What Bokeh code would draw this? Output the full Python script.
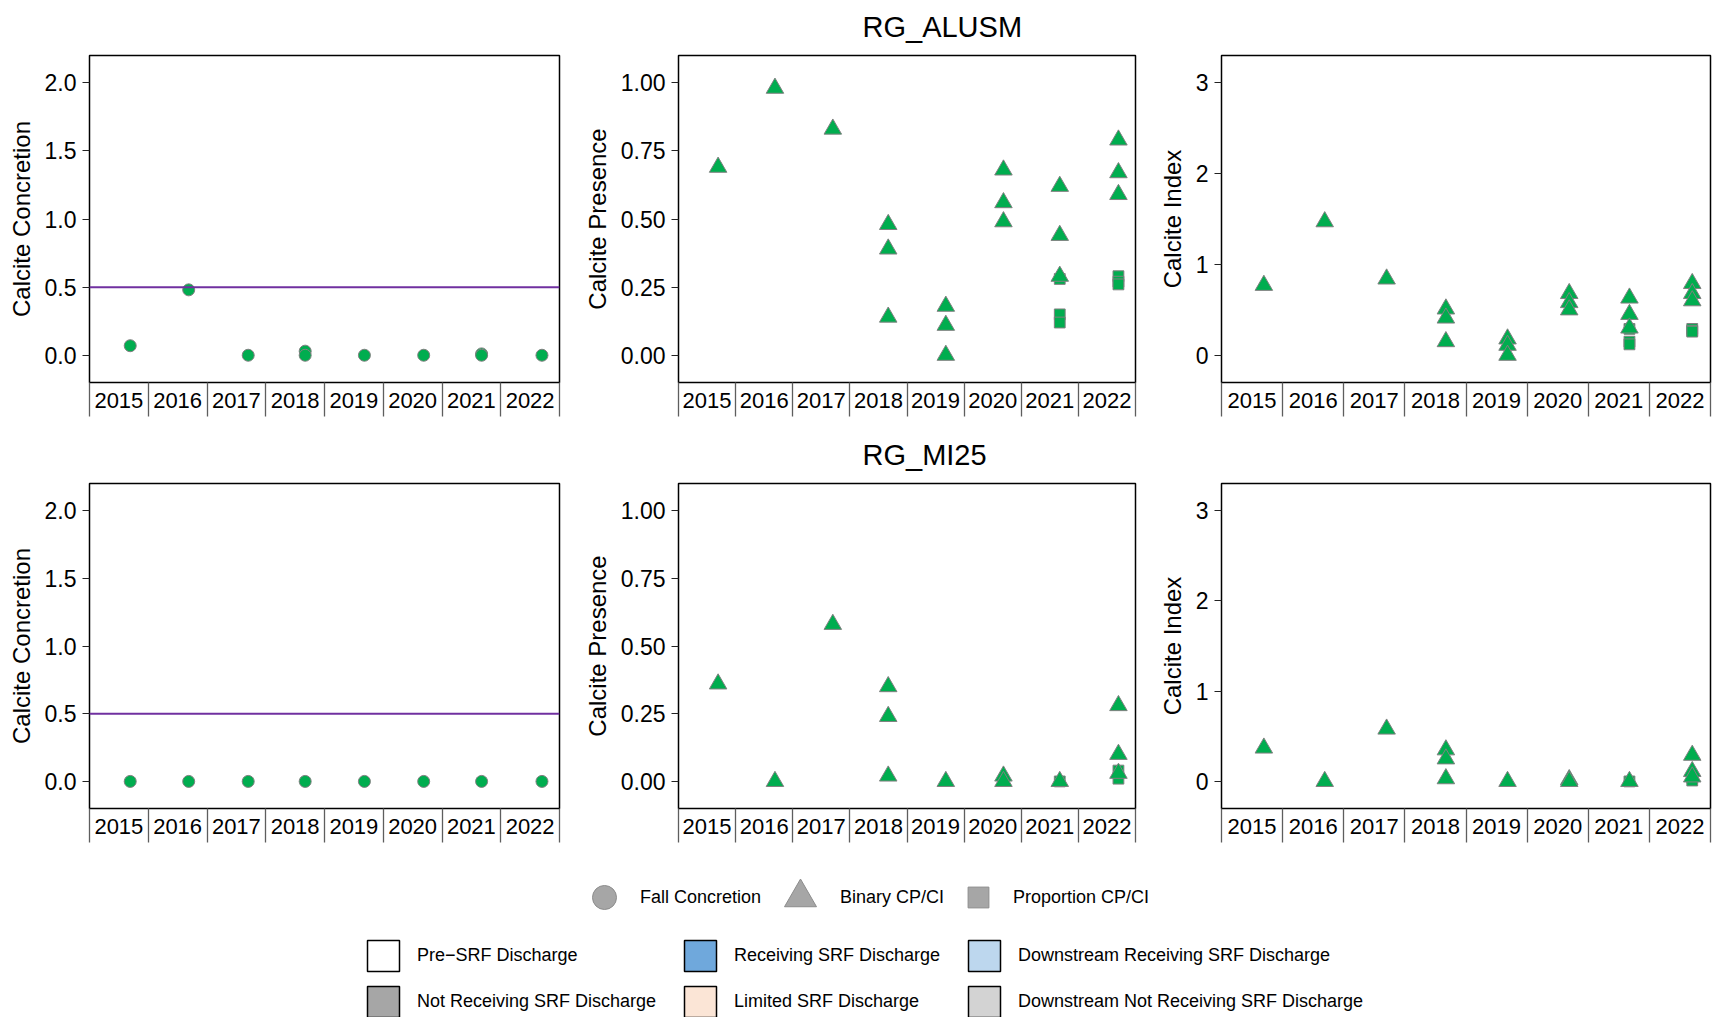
from bokeh.plotting import figure
from bokeh.models import (Range1d, FixedTicker, Title, Legend, LegendItem, Span,
                          LinearAxis, NumeralTickFormatter)
from bokeh.layouts import column, row
from bokeh.embed import file_html
from bokeh.resources import INLINE
import pandas as pd

FONT = "Liberation Sans"

# ---------------- data ----------------
years = [2015, 2016, 2017, 2018, 2019, 2020, 2021, 2022]
year_labels = ["2015", "2016", "2017", "2018", "2019", "2020", "2021", "2022"]
sample_dates = ["2015-09-11", "2016-09-09", "2017-09-14", "2018-09-03",
                "2019-09-06", "2020-09-09", "2021-09-04", "2022-09-14"]
concretion_threshold = 0.5

# RG_ALUSM
alusm_cc_year = [2015, 2016, 2017, 2018, 2018, 2019, 2020, 2021, 2021, 2022]
alusm_cc_value = [0.07, 0.48, 0.00, 0.03, 0.00, 0.00, 0.00, 0.01, 0.00, 0.00]

alusm_bin_year = [2015, 2016, 2017, 2018, 2018, 2018, 2019, 2019, 2019,
                  2020, 2020, 2020, 2021, 2021, 2021, 2022, 2022, 2022]
alusm_bcp_value = [0.69, 0.98, 0.83, 0.48, 0.39, 0.14, 0.18, 0.11, 0.00,
                   0.68, 0.56, 0.49, 0.62, 0.44, 0.29, 0.79, 0.67, 0.59]
alusm_bci_value = [0.77, 1.47, 0.84, 0.51, 0.41, 0.15, 0.18, 0.11, 0.00,
                   0.68, 0.58, 0.50, 0.63, 0.45, 0.30, 0.79, 0.68, 0.60]

alusm_prop_year = [2021, 2021, 2021, 2022, 2022, 2022]
alusm_pcp_value = [0.28, 0.15, 0.12, 0.29, 0.27, 0.26]
alusm_pci_value = [0.29, 0.15, 0.12, 0.29, 0.27, 0.26]

# RG_MI25
mi25_cc_year = [2015, 2016, 2017, 2018, 2019, 2020, 2021, 2022]
mi25_cc_value = [0.00, 0.00, 0.00, 0.00, 0.00, 0.00, 0.00, 0.00]

mi25_bin_year = [2015, 2016, 2017, 2018, 2018, 2018, 2019, 2020, 2020,
                 2021, 2022, 2022, 2022]
mi25_bcp_value = [0.36, 0.00, 0.58, 0.35, 0.24, 0.02, 0.00, 0.02, 0.00,
                  0.00, 0.28, 0.10, 0.03]
mi25_bci_value = [0.37, 0.00, 0.58, 0.35, 0.25, 0.03, 0.00, 0.02, 0.00,
                  0.00, 0.29, 0.11, 0.05]

mi25_prop_year = [2021, 2022, 2022]
mi25_pcp_value = [0.00, 0.04, 0.01]
mi25_pci_value = [0.00, 0.04, 0.01]

site_names = ["RG_ALUSM", "RG_MI25"]
shape_labels = ["Fall Concretion", "Binary CP/CI", "Proportion CP/CI"]
status_labels = ["Pre\u2212SRF Discharge", "Not Receiving SRF Discharge",
                 "Receiving SRF Discharge", "Limited SRF Discharge",
                 "Downstream Receiving SRF Discharge", "Downstream Not Receiving SRF Discharge"]
status_colors = ["#FFFFFF", "#A6A6A6", "#6FA8DC", "#FBE5D6", "#BDD7EE", "#D3D3D3"]

# ---------------- helpers ----------------
GREEN = "#00AD4F"
EDGE = "#808080"

dts = pd.to_datetime(sample_dates)
decimal_date = {y: y + (d.dayofyear - 1) / (366 if d.is_leap_year else 365)
                for y, d in zip(years, dts)}


def xs(year_list):
    return [decimal_date[y] for y in year_list]


def panel(width, height, bl, br, bt, bb, ylo, yhi, ticks, fmt, ylabel):
    p = figure(width=width, height=height, x_range=Range1d(2015, 2023),
               y_range=Range1d(ylo, yhi), output_backend="svg",
               toolbar_location=None, x_axis_type=None, y_axis_type=None,
               min_border_left=bl, min_border_right=br,
               min_border_top=bt, min_border_bottom=bb)
    p.outline_line_color = "black"
    p.outline_line_width = 1.5
    p.background_fill_color = "white"
    p.border_fill_color = "white"
    ya = LinearAxis(ticker=FixedTicker(ticks=ticks), formatter=NumeralTickFormatter(format=fmt),
                    axis_label=ylabel, axis_label_text_font=FONT,
                    axis_label_text_font_size="24px", axis_label_text_font_style="normal",
                    axis_label_text_color="black", axis_label_standoff=7,
                    major_label_text_font=FONT, major_label_text_font_size="23px",
                    major_label_text_color="black", major_label_standoff=6,
                    major_tick_out=7, major_tick_in=0, minor_tick_out=0, minor_tick_in=0,
                    major_tick_line_color="#222222", axis_line_color=None)
    p.add_layout(ya, "left")
    xa = LinearAxis(ticker=FixedTicker(ticks=[y + 0.5 for y in years],
                                       minor_ticks=years + [years[-1] + 1]),
                    major_label_overrides={y + 0.5: lab for y, lab in zip(years, year_labels)},
                    major_label_text_font=FONT, major_label_text_font_size="22px",
                    major_label_text_color="black", major_label_standoff=-24,
                    major_tick_out=0, major_tick_in=0, minor_tick_out=34, minor_tick_in=0,
                    minor_tick_line_color="#5E5E5E", minor_tick_line_width=1.3,
                    axis_line_color=None)
    p.add_layout(xa, "below")
    return p


def add_points(p, year_list, vals, marker, size):
    p.scatter(xs(year_list), vals, marker=marker, size=size, fill_color=GREEN,
              line_color=EDGE, line_width=1)


CIRC, TRI, SQ = 12, 17.5, 10.8

rows = []
specs = [
    (428, 55, 46, site_names[0],
     (alusm_cc_year, alusm_cc_value),
     (alusm_bin_year, alusm_bcp_value, alusm_prop_year, alusm_pcp_value),
     (alusm_bin_year, alusm_bci_value, alusm_prop_year, alusm_pci_value)),
    (432, 55, 52, site_names[1],
     (mi25_cc_year, mi25_cc_value),
     (mi25_bin_year, mi25_bcp_value, mi25_prop_year, mi25_pcp_value),
     (mi25_bin_year, mi25_bci_value, mi25_prop_year, mi25_pci_value)),
]

for h, bt, bb, site, cc, cp, ci in specs:
    p1 = panel(580, h, 89, 21, bt, bb, -0.2, 2.2, [0, 0.5, 1.0, 1.5, 2.0], "0.0",
               "Calcite Concretion")
    p1.add_layout(Span(location=concretion_threshold, dimension="width",
                       line_color="#7030A0", line_width=2))
    add_points(p1, cc[0], cc[1], "circle", CIRC)

    p2 = panel(570, h, 98, 15, bt, bb, -0.1, 1.1, [0, 0.25, 0.5, 0.75, 1.0], "0.00",
               "Calcite Presence")
    add_points(p2, cp[2], cp[3], "square", SQ)
    add_points(p2, cp[0], cp[1], "triangle", TRI)
    p2.add_layout(Title(text=site, align="left", offset=184, text_font=FONT,
                        text_font_size="29px", text_font_style="normal",
                        vertical_align="top", text_color="black", standoff=21), "above")

    p3 = panel(563, h, 71, 3, bt, bb, -0.3, 3.3, [0, 1, 2, 3], "0", "Calcite Index")
    add_points(p3, ci[2], ci[3], "square", SQ)
    add_points(p3, ci[0], ci[1], "triangle", TRI)
    rows.append(row(p1, p2, p3))

# ---------------- legend area ----------------
lf = figure(width=1713, height=157, x_range=Range1d(0, 1), y_range=Range1d(0, 1),
            output_backend="svg", toolbar_location=None, x_axis_type=None,
            y_axis_type=None, min_border=0)
lf.outline_line_color = None
lf.border_fill_color = "white"

LG_FILL, LG_LINE = "#A6A6A6", "#8C8C8C"
shape_specs = [("circle", 60, (574, 90), 6),
               ("triangle", 80, (760, 80), -5),
               ("square", 52, (952, 94), 9)]
for (mk, g, loc, stand), lab in zip(shape_specs, shape_labels):
    # renderer holds one off-canvas point only so that the legend has a glyph to draw
    r = lf.scatter(x=[-5], y=[-5], marker=mk, fill_color=LG_FILL, line_color=LG_LINE,
                   line_width=1)
    lg = Legend(items=[LegendItem(label=lab, renderers=[r], index=0)], location=loc,
                glyph_width=g, glyph_height=g, label_standoff=stand, padding=0,
                margin=0, border_line_color=None, background_fill_alpha=0,
                label_text_font=FONT, label_text_font_size="18px",
                label_text_color="black")
    lf.add_layout(lg)

col_specs = [363, 680, 964]
for ci_, x0 in enumerate(col_specs):
    items = []
    for k in range(2):
        idx = ci_ * 2 + k
        r = lf.quad(left=[-5], right=[-4], top=[-4], bottom=[-5],
                    fill_color=status_colors[idx], line_color="black", line_width=1.5)
        items.append(LegendItem(label=status_labels[idx], renderers=[r], index=0))
    lg = Legend(items=items, location=(x0, -4), glyph_width=40, glyph_height=39,
                spacing=7, label_standoff=14, padding=0, margin=0,
                border_line_color=None, background_fill_alpha=0,
                label_text_font=FONT, label_text_font_size="18px",
                label_text_color="black")
    lf.add_layout(lg)

layout = column(rows[0], rows[1], lf)
open("out.html", "w").write(file_html(layout, INLINE))
